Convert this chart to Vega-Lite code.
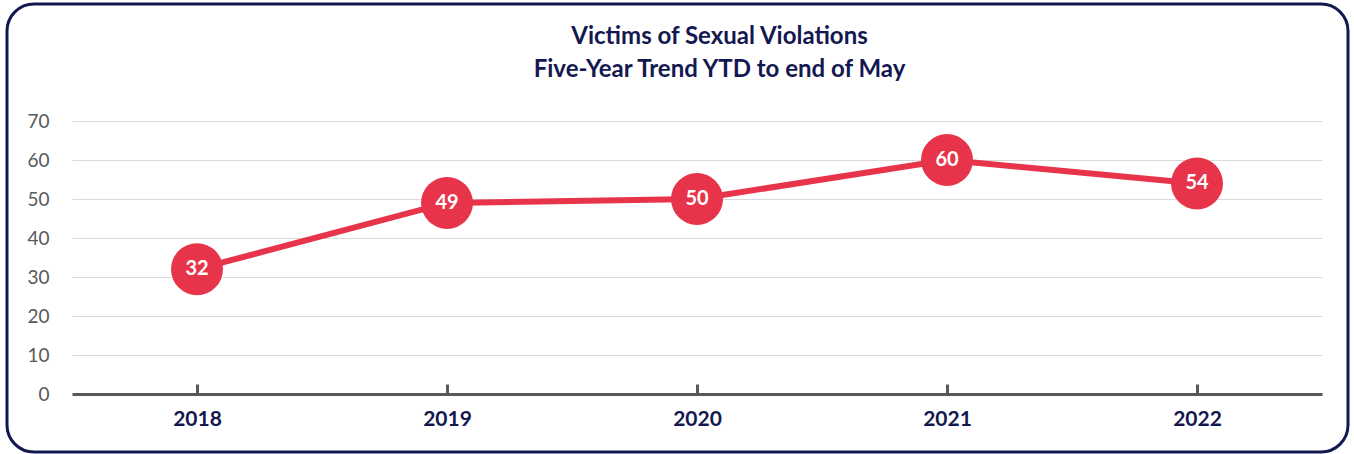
{
  "$schema": "https://vega.github.io/schema/vega-lite/v6.json",
  "width": 1341,
  "height": 448,
  "autosize": {"type": "none"},
  "padding": {"left": 7, "top": 4, "right": 6, "bottom": 2},
  "background": "white",
  "config": {
    "view": {"stroke": "#141850", "strokeWidth": 3, "cornerRadius": 27, "fill": "white"},
    "font": "Lato"
  },
  "title": {
    "text": ["Victims of Sexual Violations", "Five-Year Trend YTD to end of May"],
    "font": "Lato",
    "fontSize": 24,
    "fontWeight": "bold",
    "color": "#141850",
    "anchor": "middle",
    "frame": "group",
    "lineHeight": 33,
    "baseline": "alphabetic",
    "offset": -97,
    "dx": 42
  },
  "data": {
    "values": [
      {"year": "2018", "victims": 32},
      {"year": "2019", "victims": 49},
      {"year": "2020", "victims": 50},
      {"year": "2021", "victims": 60},
      {"year": "2022", "victims": 54}
    ]
  },
  "encoding": {
    "x": {
      "field": "year",
      "type": "ordinal",
      "scale": {"type": "point", "padding": 0.5, "range": [65, 1315]},
      "axis": {
        "title": null,
        "orient": "bottom",
        "offset": -68,
        "domain": false,
        "grid": false,
        "ticks": true,
        "tickSize": 10,
        "tickWidth": 3,
        "tickColor": "#595959",
        "labelAngle": 0,
        "labelFont": "Lato",
        "labelFontSize": 21,
        "labelFontWeight": "bold",
        "labelColor": "#141850",
        "labelPadding": 14,
        "labelBaseline": "top"
      }
    },
    "y": {
      "field": "victims",
      "type": "quantitative",
      "scale": {"domain": [0, 70], "range": [390, 117], "nice": false},
      "axis": {
        "title": null,
        "orient": "left",
        "offset": -65,
        "values": [0, 10, 20, 30, 40, 50, 60, 70],
        "domain": false,
        "ticks": false,
        "grid": true,
        "gridColor": {"condition": {"test": "datum.value === 0", "value": "#595959"}, "value": "#d9d9d9"},
        "gridWidth": {"condition": {"test": "datum.value === 0", "value": 3}, "value": 1},
        "labelFont": "Lato",
        "labelFontSize": 19,
        "labelColor": "#595959",
        "labelPadding": 23
      }
    }
  },
  "layer": [
    {"mark": {"type": "line", "color": "#E8344A", "strokeWidth": 6}},
    {"mark": {"type": "point", "filled": true, "opacity": 1, "color": "#E8344A", "size": 2700}},
    {
      "mark": {"type": "text", "color": "white", "fontSize": 20, "fontWeight": "bold", "font": "Lato", "baseline": "middle", "align": "center"},
      "encoding": {"text": {"field": "victims", "type": "quantitative"}}
    }
  ]
}
